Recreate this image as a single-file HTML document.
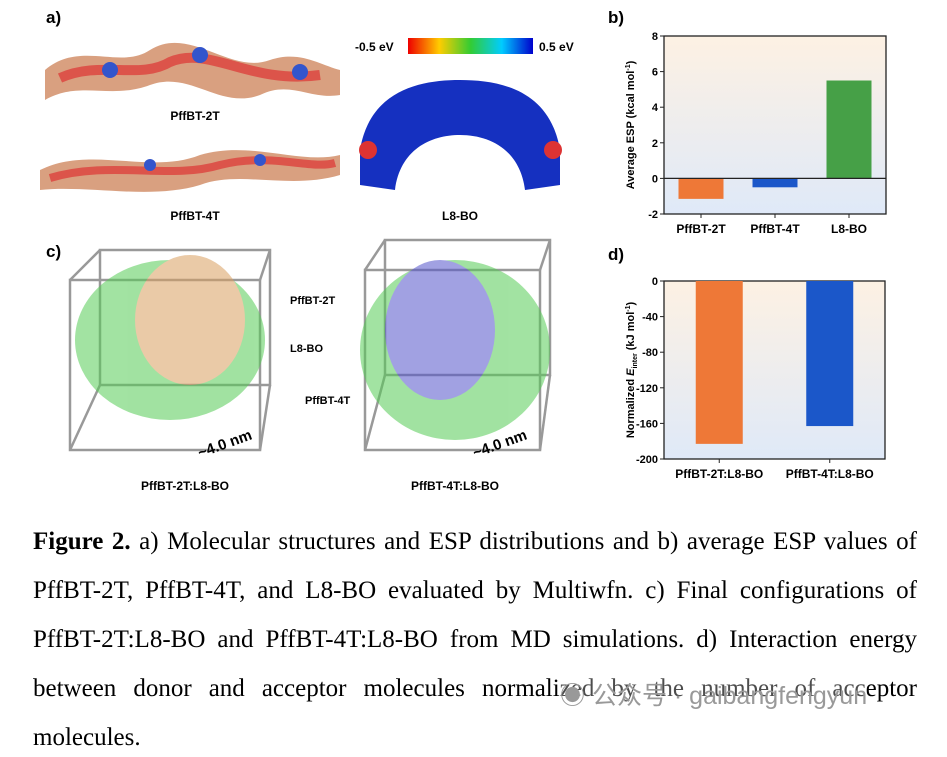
<!DOCTYPE html>
<html><head><meta charset="utf-8">
<style>
body{margin:0;width:947px;height:757px;background:#fff;position:relative;overflow:hidden;font-family:"Liberation Sans",sans-serif}
.lbl{position:absolute;font-weight:bold;font-size:17px}
.cap{position:absolute;left:33px;width:884px;font-family:"Liberation Serif",serif;font-size:25px;line-height:30px;text-align:justify;text-align-last:justify;white-space:nowrap;letter-spacing:0}
</style></head><body>
<div class="lbl" style="left:46px;top:8px">a)</div>
<div class="lbl" style="left:46px;top:242px">c)</div>
<div class="lbl" style="left:608px;top:8px">b)</div>
<div class="lbl" style="left:608px;top:245px">d)</div>

<svg style="position:absolute;left:0;top:0" width="600" height="500">
<defs>
<linearGradient id="cb" x1="0" x2="1"><stop offset="0" stop-color="#e00"/><stop offset=".25" stop-color="#fc0"/><stop offset=".5" stop-color="#3c3"/><stop offset=".75" stop-color="#0cf"/><stop offset="1" stop-color="#00c"/></linearGradient>
</defs>
<g>
<path d="M45,70 C80,40 120,70 150,50 C190,25 230,75 270,60 C300,50 320,65 340,70 L340,95 C310,100 290,80 260,95 C220,110 190,70 150,85 C110,100 80,80 45,100Z" fill="#d9a080"/>
<path d="M60,78 C100,60 140,80 170,62 C210,45 250,85 320,75" stroke="#d33" stroke-width="10" fill="none" opacity=".7"/>
<circle cx="110" cy="70" r="8" fill="#35c"/><circle cx="200" cy="55" r="8" fill="#35c"/><circle cx="300" cy="72" r="8" fill="#35c"/></g>
<text x="195" y="120" font-size="12" font-weight="bold" text-anchor="middle">PffBT-2T</text>
<g>
<path d="M40,170 C90,145 150,175 200,155 C250,140 300,165 340,155 L340,175 C290,190 240,170 200,185 C150,200 90,185 40,190Z" fill="#d9a080"/>
<path d="M50,178 C110,160 170,180 220,165 C270,152 310,170 335,163" stroke="#d33" stroke-width="8" fill="none" opacity=".7"/>
<circle cx="150" cy="165" r="6" fill="#35c"/><circle cx="260" cy="160" r="6" fill="#35c"/></g>
<text x="195" y="220" font-size="12" font-weight="bold" text-anchor="middle">PffBT-4T</text>
<rect x="408" y="38" width="125" height="16" fill="url(#cb)"/>
<text x="355" y="51" font-size="12" font-weight="bold">-0.5 eV</text>
<text x="539" y="51" font-size="12" font-weight="bold">0.5 eV</text>
<path d="M360,150 C370,90 420,80 460,80 C500,80 550,90 560,150 L560,185 L525,190 C520,150 490,135 460,135 C430,135 400,150 395,190 L360,185Z" fill="#1530c0"/>
<circle cx="368" cy="150" r="9" fill="#d33"/><circle cx="553" cy="150" r="9" fill="#d33"/>
<text x="460" y="220" font-size="12" font-weight="bold" text-anchor="middle">L8-BO</text>
<g stroke="#999" stroke-width="2.5" fill="none">
<rect x="70" y="280" width="190" height="170"/><rect x="100" y="250" width="170" height="135"/>
<line x1="70" y1="280" x2="100" y2="250"/><line x1="260" y1="280" x2="270" y2="250"/><line x1="70" y1="450" x2="100" y2="385"/><line x1="260" y1="450" x2="270" y2="385"/></g>
<g opacity=".55"><ellipse cx="170" cy="340" rx="95" ry="80" fill="#5c5"/><ellipse cx="190" cy="320" rx="55" ry="65" fill="#d9a060"/></g>
<g stroke="#999" stroke-width="2.5" fill="none">
<rect x="365" y="270" width="175" height="180"/><rect x="385" y="240" width="165" height="135"/>
<line x1="365" y1="270" x2="385" y2="240"/><line x1="540" y1="270" x2="550" y2="240"/><line x1="365" y1="450" x2="385" y2="375"/><line x1="540" y1="450" x2="550" y2="375"/></g>
<g opacity=".55"><ellipse cx="455" cy="350" rx="95" ry="90" fill="#5c5"/><ellipse cx="440" cy="330" rx="55" ry="70" fill="#55c"/></g>
<text x="290" y="304" font-size="11" font-weight="bold">PffBT-2T</text>
<text x="290" y="352" font-size="11" font-weight="bold">L8-BO</text>
<text x="305" y="404" font-size="11" font-weight="bold">PffBT-4T</text>
<text x="200" y="458" font-size="15" font-weight="bold" transform="rotate(-20 200 458)">~4.0 nm</text>
<text x="475" y="458" font-size="15" font-weight="bold" transform="rotate(-20 475 458)">~4.0 nm</text>
<text x="185" y="490" font-size="12" font-weight="bold" text-anchor="middle">PffBT-2T:L8-BO</text>
<text x="455" y="490" font-size="12" font-weight="bold" text-anchor="middle">PffBT-4T:L8-BO</text>
</svg>

<svg id="chartB" style="position:absolute;left:0;top:0" width="947" height="500">
<defs><linearGradient id="bg" x1="0" y1="0" x2="0" y2="1"><stop offset="0" stop-color="#fdf1e3"/><stop offset="1" stop-color="#dfe9f8"/></linearGradient></defs>
</svg>

<div class="cap" style="top:527px"><b>Figure 2.</b> a) Molecular structures and ESP distributions and b) average ESP values of</div>
<div class="cap" style="top:576px">PffBT-2T, PffBT-4T, and L8-BO evaluated by Multiwfn. c) Final configurations of</div>
<div class="cap" style="top:625px">PffBT-2T:L8-BO and PffBT-4T:L8-BO from MD simulations. d) Interaction energy</div>
<div class="cap" style="top:674px">between donor and acceptor molecules normalized by the number of acceptor</div>
<div class="cap" style="top:723px;text-align-last:left">molecules.</div>
<div style="position:absolute;left:560px;top:676px;font-size:25px;color:#999;font-family:'Liberation Sans','Noto Sans CJK SC',sans-serif;background:rgba(255,255,255,0.3)">◉ 公众号 · gaibangfengyun</div>

<script>
const bCats=["PffBT-2T","PffBT-4T","L8-BO"];
const bVals=[-1.15,-0.5,5.5];
const bTicks=[-2,0,2,4,6,8];
const dCats=["PffBT-2T:L8-BO","PffBT-4T:L8-BO"];
const dVals=[-183,-163];
const dTicks=[-200,-160,-120,-80,-40,0];
const NS="http://www.w3.org/2000/svg";
const svg=document.getElementById('chartB');
function mk(t,a){const e=document.createElementNS(NS,t);for(const k in a)e.setAttribute(k,a[k]);svg.appendChild(e);return e;}
function chart(o){
  const y=v=>o.y0+(o.max-v)/(o.max-o.min)*(o.y1-o.y0);
  const bg=mk('rect',{x:o.x0,y:o.y0,width:o.x1-o.x0,height:o.y1-o.y0,fill:'url(#bg)',stroke:'#222','stroke-width':1.3});
  
  
  const bw=(o.x1-o.x0)/o.cats.length;
  o.vals.forEach((v,i)=>{
    const cx=o.x0+bw*(i+0.5);
    const r=mk('rect',{x:cx-o.barW/2,y:Math.min(y(v),y(0)),width:o.barW,height:Math.abs(y(v)-y(0)),fill:o.colors[i]});
    
    
    mk('line',{x1:cx,x2:cx,y1:o.y1,y2:o.y1+4,stroke:'#222'});
    const t=mk('text',{x:cx,y:o.y1+19,'font-size':12,'font-weight':'bold','text-anchor':'middle'});
    t.textContent=o.cats[i];
    
    
  });
  o.ticks.forEach(v=>{
    mk('line',{x1:o.x0-4,x2:o.x0,y1:y(v),y2:y(v),stroke:'#222'});
    const t=mk('text',{x:o.x0-6,y:y(v)+4,'font-size':11,'font-weight':'bold','text-anchor':'end'});
    t.textContent=v;
    
    
  });
  if(o.zero) mk('line',{x1:o.x0,x2:o.x1,y1:y(0),y2:y(0),stroke:'#222','stroke-width':1.3});
  const cy=(o.y0+o.y1)/2;
  const yt=mk('text',{x:0,y:0,'font-size':11,'font-weight':'bold','text-anchor':'middle',transform:`translate(${o.x0-30},${cy}) rotate(-90)`});
  yt.innerHTML=o.ytitle;
  
  
}
chart({name:'chart-b',x0:664,x1:886,y0:36,y1:214,min:-2,max:8,cats:bCats,vals:bVals,ticks:bTicks,barW:45,colors:['#ee7837','#1b57c9','#46a047'],zero:true,ytitle:'Average ESP (kcal mol<tspan dy="-4" font-size="7">-1</tspan><tspan dy="4">)</tspan>'});
chart({name:'chart-d',x0:664,x1:885,y0:281,y1:459,min:-200,max:0,cats:dCats,vals:dVals,ticks:dTicks,barW:47,colors:['#ee7837','#1b57c9'],zero:false,ytitle:'Normalized <tspan font-style="italic">E</tspan><tspan dy="3" font-size="7">inter</tspan><tspan dy="-3"> (kJ mol</tspan><tspan dy="-4" font-size="7">-1</tspan><tspan dy="4">)</tspan>'});
</script>
</body></html>
